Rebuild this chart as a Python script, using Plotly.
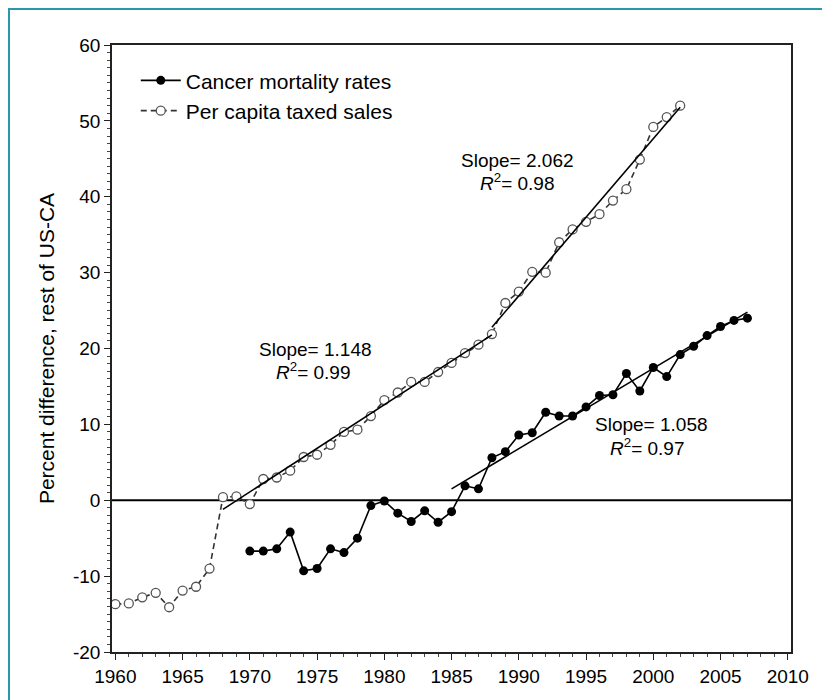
import plotly.graph_objects as go

# ---- data ----
sales_years = list(range(1960, 2003))
sales_vals = [-13.7, -13.6, -12.8, -12.2, -14.1, -11.9, -11.4, -9.0, 0.4, 0.5,
              -0.5, 2.8, 3.0, 3.9, 5.7, 6.0, 7.3, 9.0, 9.3, 11.1,
              13.2, 14.2, 15.6, 15.6, 16.9, 18.1, 19.4, 20.5, 21.9, 26.0,
              27.5, 30.1, 30.0, 34.0, 35.7, 36.7, 37.7, 39.5, 41.0, 44.9,
              49.2, 50.5, 52.0]

cancer_years = list(range(1970, 2008))
cancer_vals = [-6.7, -6.7, -6.4, -4.2, -9.3, -9.0, -6.4, -6.9, -5.0, -0.7,
               -0.1, -1.7, -2.8, -1.4, -2.9, -1.5, 1.9, 1.5, 5.6, 6.4,
               8.6, 8.9, 11.6, 11.1, 11.1, 12.3, 13.8, 13.9, 16.7, 14.4,
               17.5, 16.3, 19.2, 20.3, 21.7, 22.9, 23.7, 24.0]

fit1_years = [1968, 1988]
fit1_vals = [-1.2, 21.8]
fit2_years = [1988, 2002]
fit2_vals = [22.8, 51.8]
fit3_years = [1985, 2007]
fit3_vals = [1.5, 24.8]

labels = [
    ("Slope= 1.148", "<i>R</i><sup>2</sup>= 0.99", 1974.9, 19.9, 1974.7, 17.0),
    ("Slope= 2.062", "<i>R</i><sup>2</sup>= 0.98", 1989.9, 44.8, 1989.9, 41.9),
    ("Slope= 1.058", "<i>R</i><sup>2</sup>= 0.97", 1999.9, 10.0, 1999.6, 7.0),
]

x_ticks = list(range(1960, 2011, 5))
y_ticks = list(range(-20, 61, 10))
y_tick_text = [str(v) for v in y_ticks]

FONT = "Liberation Sans, Arial, sans-serif"

fig = go.Figure()

fig.add_trace(go.Scatter(
    x=cancer_years, y=cancer_vals, mode="lines+markers",
    name="Cancer mortality rates",
    line=dict(color="black", width=1.6),
    marker=dict(symbol="circle", size=9, color="black"),
))
fig.add_trace(go.Scatter(
    x=sales_years, y=sales_vals, mode="lines+markers",
    name="Per capita taxed sales",
    line=dict(color="#333333", width=1.6, dash="6px,4px"),
    marker=dict(symbol="circle", size=9, color="white",
                line=dict(color="#555555", width=1.3)),
))
for fx, fy in [(fit1_years, fit1_vals), (fit2_years, fit2_vals), (fit3_years, fit3_vals)]:
    fig.add_trace(go.Scatter(
        x=fx, y=fy, mode="lines", showlegend=False, hoverinfo="skip",
        line=dict(color="black", width=1.6),
    ))

for s, r, sx, sy, rx, ry in labels:
    fig.add_annotation(x=sx, y=sy, text=s, showarrow=False,
                       font=dict(family=FONT, size=19, color="black"))
    fig.add_annotation(x=rx, y=ry, text=r, showarrow=False,
                       font=dict(family=FONT, size=19, color="black"))

# zero line
fig.add_shape(type="line", xref="paper", x0=0, x1=1, yref="y", y0=0, y1=0,
              line=dict(color="black", width=2.2), layer="below")

# page is offset by the 8px body margin, so layout is shifted accordingly
L, R, T, B = 104, 47, 37, 56
W, H = 830, 700
pw, ph = W - L - R, H - T - B
def px_x(p):
    return (p - L) / pw
def px_y(p):
    return (H - B - p) / ph
fig.add_shape(type="rect", xref="paper", yref="paper",
              x0=px_x(1), x1=px_x(818), y0=px_y(698), y1=px_y(1),
              line=dict(color="#2a98ab", width=2), fillcolor="rgba(0,0,0,0)")

fig.update_layout(
    width=W, height=H,
    margin=dict(l=L, r=R, t=T, b=B, autoexpand=False),
    paper_bgcolor="white", plot_bgcolor="white",
    font=dict(family=FONT, size=19, color="black"),
    showlegend=True,
    legend=dict(x=0.035, y=0.975, xanchor="left", yanchor="top",
                bgcolor="rgba(0,0,0,0)", font=dict(family=FONT, size=21),
                itemwidth=40, tracegroupgap=0),
)
fig.update_xaxes(
    range=[1959.75, 2010.24], tickvals=x_ticks, automargin=False,
    showline=True, linecolor="#222", linewidth=1.5, mirror=True,
    ticks="outside", ticklen=6, tickwidth=1.3, tickcolor="#222",
    minor=dict(dtick=1, tick0=1960, ticks="outside", ticklen=3, tickcolor="#444"),
    showgrid=False, zeroline=False,
    tickfont=dict(family=FONT, size=19),
)
fig.update_yaxes(
    range=[-20, 60], tickvals=y_ticks, ticktext=y_tick_text, automargin=False,
    showline=True, linecolor="#222", linewidth=1.5, mirror=True,
    ticks="outside", ticklen=6, tickwidth=1.3, tickcolor="#222",
    minor=dict(dtick=1, tick0=0, ticks="outside", ticklen=3, tickcolor="#444"),
    showgrid=False, zeroline=False,
    tickfont=dict(family=FONT, size=19),
    title=dict(text="Percent difference, rest of US-CA", font=dict(family=FONT, size=21), standoff=13),
)

fig.write_html("out.html")
